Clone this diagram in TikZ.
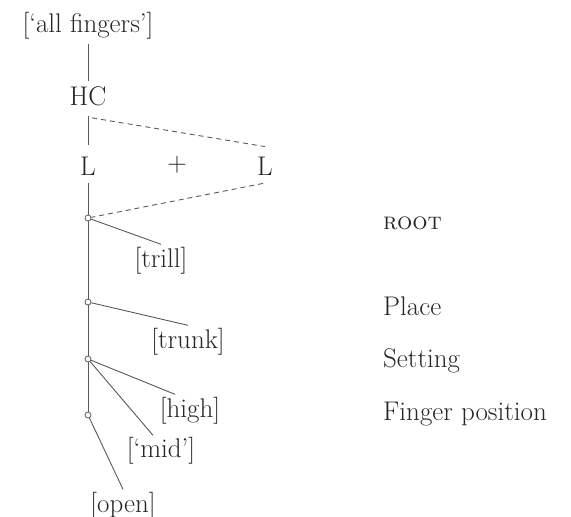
\documentclass[tikz,border=0pt]{standalone}
\begin{document}
\begin{tikzpicture}[x=1pt,y=-1pt,
  every node/.style={inner sep=0pt, font=\fontsize{27}{31}\selectfont, text=black!85},
  lbl/.style={anchor=base west},
  branch/.style={draw=black!65, line width=0.9pt},
  dashline/.style={draw=black!65, line width=0.9pt, dash pattern=on 5pt off 4pt},
  knot/.style={circle, draw=black!65, line width=0.8pt, fill=white, minimum size=6pt, inner sep=0pt}]
\useasboundingbox (0,0) rectangle (571,517);
% tree labels
\node (af) at (88,26) {[`all fingers']};
\node (hc) at (88,96) {HC};
\node (l1) at (88,166) {L};
\node (plus) at (177,165) {+};
\node (l2) at (265,166) {L};
\node (trill) at (161,261) {[trill]};
\node (trunk) at (188,342) {[trunk]};
\node (high) at (190,411) {[high]};
\node (mid) at (161,451) {[`mid']};
\node (open) at (123,506) {[open]};
% right-hand labels
\node[lbl] (root) at (383,229) {\fontsize{24}{28}\selectfont\textsc{root}};
\node[lbl] (place) at (383,315) {Place};
\node[lbl] (setting) at (383,367) {Setting};
\node[lbl] (fpos) at (383,420) {Finger position};
% knots
\node[knot] (r) at (88,218) {};
\node[knot] (p) at (88,302) {};
\node[knot] (s) at (88,359) {};
\node[knot] (f) at (88,415) {};
% connectors
\draw[branch, shorten <=4pt, shorten >=5pt] (af.south) -- (hc.north);
\draw[branch, shorten <=10pt, shorten >=12pt] (hc.south) -- (l1.north);
\draw[branch, shorten <=8pt] (l1.south) -- (r);
\draw[branch] (r) -- (p);
\draw[branch] (p) -- (s);
\draw[branch] (s) -- (f);
\draw[dashline] ([shift={(4,12)}]hc.south) -- ([shift={(0,-10)}]l2.north);
\draw[dashline] ([shift={(-2,8)}]l2.south) -- (r);
\draw[branch] (r) -- ([shift={(0,-3)}]trill.north);
\draw[branch] (p) -- ([shift={(0,-3)}]trunk.north);
\draw[branch] (s) -- ([shift={(-15,-3)}]high.north);
\draw[branch] (s) -- ([shift={(-8,-2)}]mid.north);
\draw[branch] (f) -- ([shift={(0,-3)}]open.north);
\end{tikzpicture}
\end{document}
